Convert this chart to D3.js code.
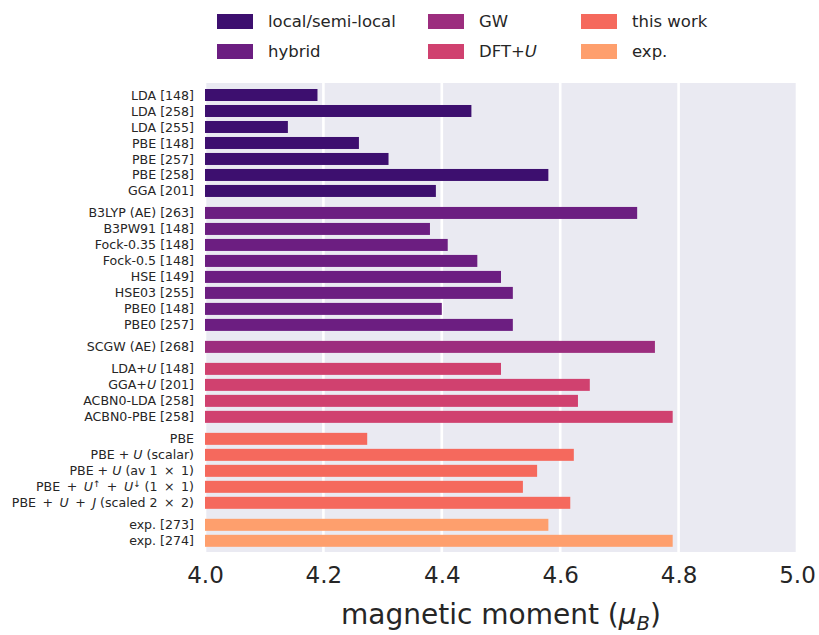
<!DOCTYPE html>
<html>
<head>
<meta charset="utf-8">
<script src="https://cdn.jsdelivr.net/npm/d3@7"></script>
<style>
  html, body { margin: 0; padding: 0; background: #ffffff; }
  svg text { font-family: "DejaVu Sans", sans-serif; fill: #262626; }
</style>
</head>
<body>
<svg id="chart" width="819" height="635"></svg>
<script>
// Method groups, in drawing order
const groups = ["local/semi-local", "hybrid", "GW", "DFT+<i>U</i>", "this work", "exp."];
const groupColors = ["#3d0f6f", "#6c1e81", "#9c2d7e", "#d0416f", "#f5695d", "#fe9f6d"];

// Row labels (simple markup: <i> italic, <sup> superscript, <sub> subscript)
// \u2009 = thin space for math-style spacing around operators
const labels = [
  "LDA [148]", "LDA [258]", "LDA [255]", "PBE [148]", "PBE [257]", "PBE [258]", "GGA [201]",
  "B3LYP (AE) [263]", "B3PW91 [148]", "Fock-0.35 [148]", "Fock-0.5 [148]", "HSE [149]",
  "HSE03 [255]", "PBE0 [148]", "PBE0 [257]",
  "SCGW (AE) [268]",
  "LDA+<i>U</i> [148]", "GGA+<i>U</i> [201]", "ACBN0-LDA [258]", "ACBN0-PBE [258]",
  "PBE",
  "PBE + <i>U</i> (scalar)",
  "PBE + <i>U</i> (av 1\u2009 × \u20091)",
  "PBE\u2009 + \u2009<i>U</i><sup>↑</sup>\u2009 + \u2009<i>U</i><sup>↓</sup> (1\u2009 × \u20091)",
  "PBE\u2009 + \u2009<i>U</i>\u2009 + \u2009<i>J</i> (scaled 2\u2009 × \u20092)",
  "exp. [273]", "exp. [274]"
];

// Magnetic moment per row (μB)
const moments = [
  4.19, 4.45, 4.14, 4.26, 4.31, 4.58, 4.39,
  4.73, 4.38, 4.41, 4.46, 4.50, 4.52, 4.40, 4.52,
  4.76,
  4.50, 4.65, 4.63, 4.79,
  4.274, 4.623, 4.561, 4.537, 4.617,
  4.58, 4.79
];

// Group index of each row
const rowGroup = [
  0, 0, 0, 0, 0, 0, 0,
  1, 1, 1, 1, 1, 1, 1, 1,
  2,
  3, 3, 3, 3,
  4, 4, 4, 4, 4,
  5, 5
];

const xTicks = [4.0, 4.2, 4.4, 4.6, 4.8, 5.0];
const xLabel = "magnetic moment (<i>μ</i><sub><i>B</i></sub>)";

// Layout
const plot = { left: 205, right: 797, top: 83, bottom: 552 };
const groupGap = 0.375;   // extra spacing between method groups (in row units)
const barHeight = 0.75;   // bar thickness (in row units)

// Row positions: one unit per row plus a gap between groups
const rows = labels.map((lab, i) => ({
  label: lab,
  value: moments[i],
  group: rowGroup[i],
  pos: i + rowGroup[i] * groupGap
}));
const lastPos = rows[rows.length - 1].pos;

const svg = d3.select("#chart");

const x = d3.scaleLinear().domain([4, 5]).range([plot.left, plot.right]);
const y = d3.scaleLinear().domain([-0.75, lastPos + 0.7]).range([plot.top, plot.bottom]);
const rowPx = y(1) - y(0);

// Rich-text helper: italic runs, super/subscripts
function richText(sel, markup, baseSize) {
  const re = /<(i|sup|sub)>(.*?)<\/\1>|([^<]+)/g;
  let m, shift = 0;
  const parts = [];
  while ((m = re.exec(markup)) !== null) {
    if (m[3] !== undefined) parts.push({ t: m[3], style: "normal", shift: 0 });
    else if (m[1] === "i") parts.push({ t: m[2], style: "italic", shift: 0 });
    else {
      const inner = m[2];
      const it = /<i>(.*?)<\/i>/.exec(inner);
      parts.push({ t: it ? it[1] : inner, style: it ? "italic" : "normal",
                   shift: m[1] === "sup" ? -0.38 : 0.2, small: true });
    }
  }
  parts.forEach(p => {
    const dy = (p.shift - shift) * baseSize;
    const ts = sel.append("tspan").text(p.t).attr("font-style", p.style);
    if (dy !== 0) ts.attr("dy", dy);
    if (p.small) ts.attr("font-size", baseSize * 0.7);
    shift = p.shift;
  });
  if (shift !== 0) sel.append("tspan").attr("dy", -shift * baseSize).text("\u200a");
}

// Plot background
svg.append("rect")
  .attr("x", plot.left).attr("y", plot.top)
  .attr("width", plot.right - plot.left).attr("height", plot.bottom - plot.top)
  .attr("fill", "#eaeaf2");

// Vertical gridlines
svg.append("g").selectAll("line").data(xTicks).join("line")
  .attr("x1", d => x(d)).attr("x2", d => x(d))
  .attr("y1", plot.top).attr("y2", plot.bottom)
  .attr("stroke", "#ffffff").attr("stroke-width", 2.6);

// Bars
svg.append("g").selectAll("rect").data(rows).join("rect")
  .attr("x", x(4))
  .attr("y", d => y(d.pos) - barHeight * rowPx / 2)
  .attr("width", d => x(d.value) - x(4))
  .attr("height", barHeight * rowPx)
  .attr("fill", d => groupColors[d.group]);

// Row labels
const ylab = svg.append("g");
rows.forEach(d => {
  const t = ylab.append("text")
    .attr("x", 194).attr("y", y(d.pos))
    .attr("dy", "0.36em")
    .attr("text-anchor", "end")
    .attr("font-size", 12.6);
  richText(t, d.label, 12.6);
});

// X axis
const xAxis = d3.axisBottom(x).tickValues(xTicks).tickFormat(d3.format(".1f"))
  .tickSize(0).tickPadding(15);
const gx = svg.append("g").attr("transform", `translate(0,${plot.bottom})`).call(xAxis);
gx.select(".domain").remove();
gx.selectAll("text").attr("font-size", 23).attr("font-family", null).attr("fill", "#262626");

// X axis title
const xt = svg.append("text")
  .attr("x", (plot.left + plot.right) / 2).attr("y", 624)
  .attr("text-anchor", "middle").attr("font-size", 28);
richText(xt, xLabel, 28);

// Legend: 3 columns x 2 rows
const legCols = [217, 428, 581];
const legRows = [21.5, 51.5];
const leg = svg.append("g");
groups.forEach((g, i) => {
  const col = Math.floor(i / 2), row = i % 2;
  leg.append("rect")
    .attr("x", legCols[col]).attr("y", legRows[row] - 7.5)
    .attr("width", 36).attr("height", 15)
    .attr("fill", groupColors[i]);
  const t = leg.append("text")
    .attr("x", legCols[col] + 51).attr("y", legRows[row])
    .attr("dy", "0.36em").attr("font-size", 16.5);
  richText(t, g, 16.5);
});
</script>
</body>
</html>
